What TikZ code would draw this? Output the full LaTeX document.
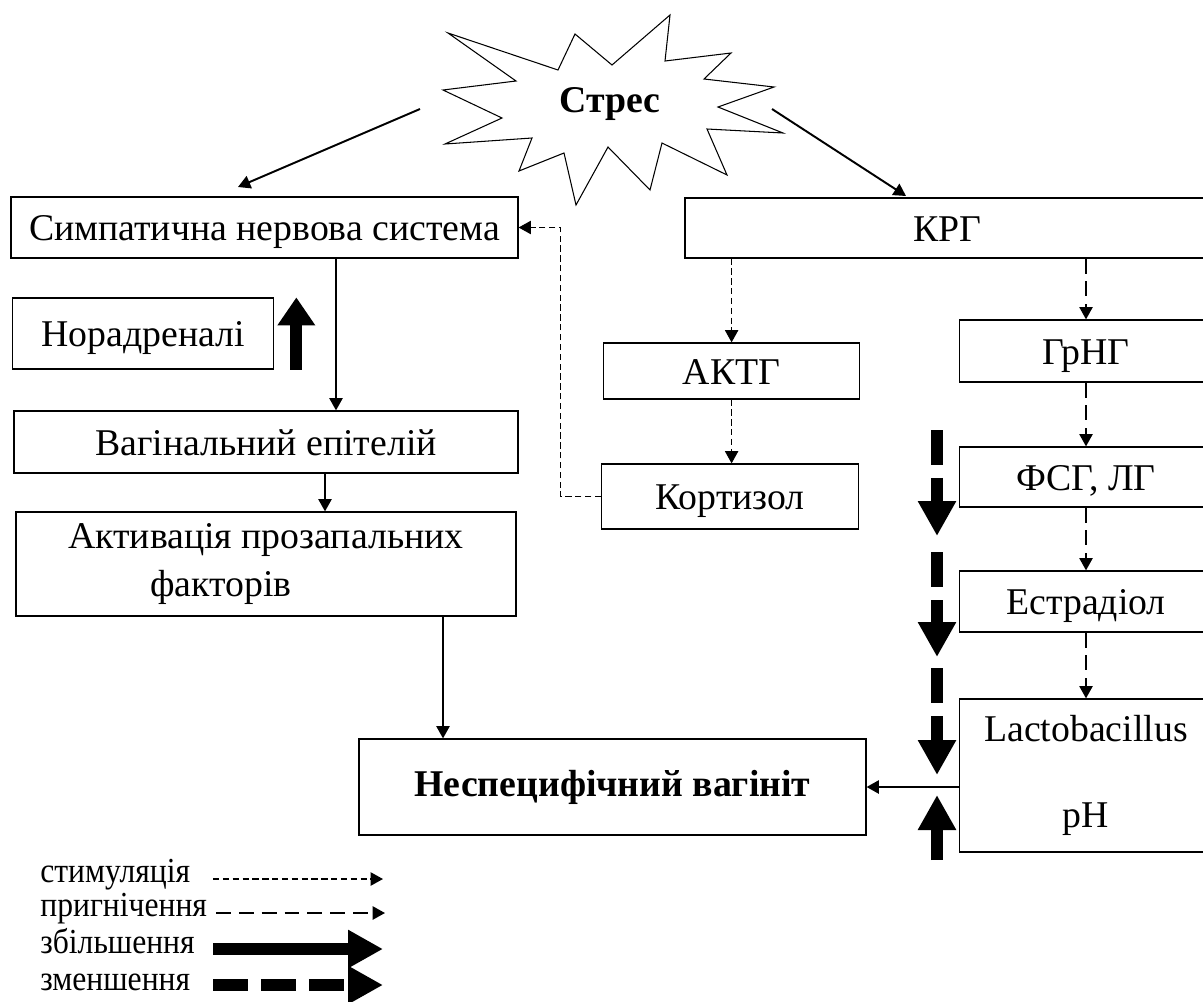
\documentclass[tikz,border=0pt]{standalone}
\usepackage{fontspec}
\setmainfont{Liberation Serif}
\newfontfamily\legfam{Liberation Serif}[FakeStretch=0.9]
\usetikzlibrary{arrows.meta,positioning,calc}
\newcommand\boxfont{\fontsize{21.5}{27}\selectfont}
\newcommand\legfont{\legfam\fontsize{20}{23}\selectfont}
\tikzset{
  box/.style={draw,line width=0.7pt,inner sep=2pt,font=\boxfont,align=center},
  onel/.style={box,text height=19.5pt,text depth=4.7pt},
  conn/.style={-{Triangle[length=7pt,width=7.5pt]},line width=1.1pt},
  stim/.style={conn,line width=0.95pt,dash pattern=on 3.6pt off 2pt},
  prig/.style={conn,line width=1pt,dash pattern=on 8.5pt off 4.5pt},
  upbig/.style={-{Triangle[length=0.7cm,width=0.72cm]},line width=0.24cm},
  downbig/.style={upbig,dash pattern=on 0.7cm off 0.26cm},
  legtext/.style={anchor=base west,font=\legfont,inner sep=0pt}
}
\begin{document}
\begin{tikzpicture}[x=0.02cm,y=-0.02cm]
  \useasboundingbox (0,0) rectangle (1203,1001);
  % stress burst
  \draw[line width=0.6pt] (448,33) -- (558,70) -- (575,34) -- (612,65) -- (670,15) -- (665,61)
    -- (731,53) -- (704,79) -- (774,87) -- (718,107) -- (783,133) -- (707,129) -- (727,175)
    -- (662,143) -- (650,190) -- (608,147) -- (576,205) -- (564,153) -- (519,171) -- (532,138)
    -- (445,144) -- (502,118) -- (443,90) -- (516,81) -- cycle;
  \node[font=\boxfont\bfseries] (stres) at (610,104) {Стрес};

  % left branch
  \node[onel,minimum width=10.14cm,minimum height=1.22cm] (symp) at (264.5,227.5) {Симпатична нервова система};
  \node[onel,minimum width=5.23cm,minimum height=1.42cm] (norad) at (143,333.5) {Норадреналі};
  \node[onel,minimum width=10.08cm,minimum height=1.24cm] (vag) at (266,442) {Вагінальний епітелій};
  \node[box,minimum width=10cm,minimum height=2.08cm,align=left] (akt) at (266,564) {Активація прозапальних\\\hspace*{1.64cm}факторів};
  \node[box,minimum width=10.14cm,minimum height=1.92cm,font=\boxfont\bfseries] (nesp) at (612.5,787) {Неспецифічний вагініт};

  % right branch
  \node[onel,minimum width=10.5cm,minimum height=1.2cm] (krg) at (947.5,228) {КРГ};
  \node[onel,minimum width=5.12cm,minimum height=1.12cm] (aktg) at (731.6,371) {АКТГ};
  \node[onel,minimum width=5.13cm,minimum height=1.3cm] (kort) at (730,496.5) {Кортизол};
  \node[onel,minimum width=5.06cm,minimum height=1.24cm] (grng) at (1086,351) {ГрНГ};
  \node[onel,minimum width=5.06cm,minimum height=1.2cm] (fsg) at (1086,477) {ФСГ, ЛГ};
  \node[onel,minimum width=5.06cm,minimum height=1.22cm] (estr) at (1086,601.5) {Естрадіол};
  \node[box,minimum width=5.06cm,minimum height=3.06cm] (lacto) at (1086,775.5) {Lactobacillus\\[22pt]pH};

  % connectors
  \coordinate (sl) at (420,109);
  \coordinate (slend) at (238,187);
  \coordinate (sr) at (772,109);
  \coordinate (srend) at (906,196);
  \draw[conn] (sl) -- (slend);
  \draw[conn] (sr) -- (srend);
  \coordinate (sv) at ($(symp.south)+(71.5,0)$);
  \draw[conn] (sv) -- (sv |- vag.north);
  \coordinate (va) at ($(vag.south)+(59,0)$);
  \draw[conn] (va) -- (va |- akt.north);
  \coordinate (an) at ($(akt.south)+(177,0)$);
  \draw[conn] (an) -- (an |- nesp.north);
  \draw[conn] (lacto.west |- nesp.east) -- (nesp.east);
  \draw[stim] (aktg.north |- krg.south) -- (aktg.north);
  \draw[stim] (aktg.south) -- (aktg.south |- kort.north);
  \draw[stim] (kort.west) -| ($(symp.east)+(42,0)$) -- (symp.east);
  \draw[prig] (grng.north |- krg.south) -- (grng.north);
  \draw[prig] (grng.south) -- (fsg.north);
  \draw[prig] (fsg.south) -- (estr.north);
  \draw[prig] (estr.south) -- (lacto.north);

  % increase / decrease marks
  \coordinate (nu) at ($(norad.south east)+(22,0)$);
  \draw[upbig,-{Triangle[length=0.56cm,width=0.72cm]}] (nu) -- (nu |- norad.north);
  \foreach \ys/\ye in {430/536,552/657,668/775}
    \draw[downbig] (937,\ys) -- (937,\ye);
  \draw[upbig] (937,860) -- (937,795);

  % legend
  \node[legtext] (lstim) at (40,882) {стимуляція};
  \node[legtext] (lprig) at (40,916) {пригнічення};
  \node[legtext] (lzbil) at (40,953) {збільшення};
  \node[legtext] (lzmen) at (40,990) {зменшення};
  \coordinate (a1) at (213,879); \coordinate (b1) at (383,879);
  \coordinate (a2) at (216,913); \coordinate (b2) at (385,913);
  \coordinate (a3) at (213,949); \coordinate (b3) at (383,949);
  \coordinate (a4) at (213,985); \coordinate (b4) at (383,985);
  \draw[stim] (a1) -- (b1);
  \draw[prig] (a2) -- (b2);
  \draw[upbig] (a3) -- (b3);
  \draw[downbig] (a4) -- (b4);
\end{tikzpicture}
\end{document}
